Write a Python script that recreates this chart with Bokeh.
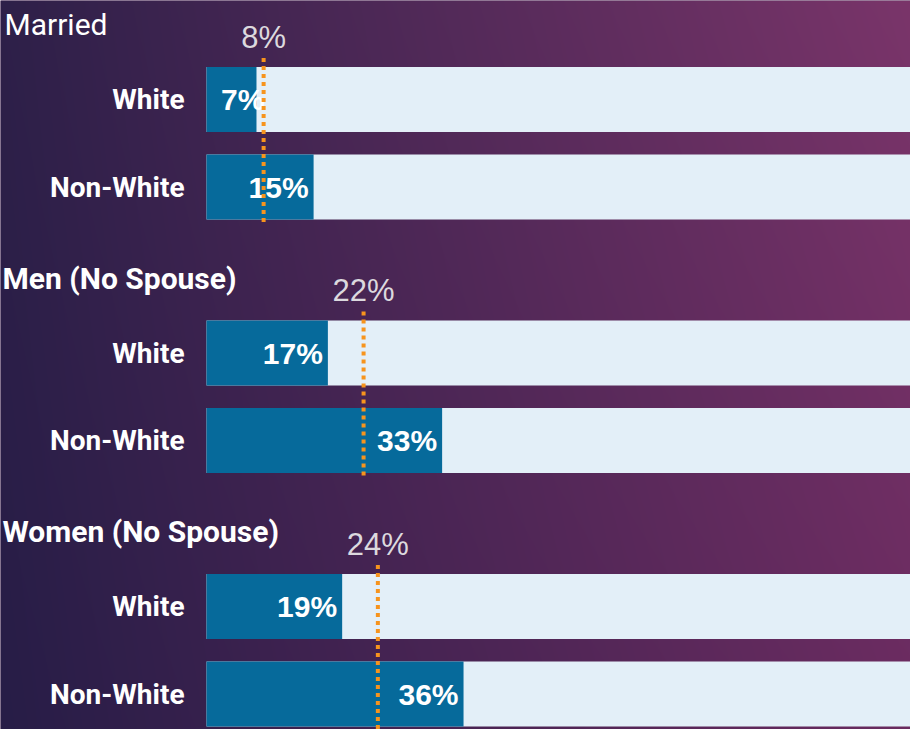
import numpy as np
from bokeh.plotting import figure
from bokeh.models import Range1d, ColumnDataSource
from bokeh.core.properties import value
from bokeh.embed import file_html
from bokeh.resources import INLINE

# ---- data ----
groups = ["Married", "Men (No Spouse)", "Women (No Spouse)"]
races = ["White", "Non-White"]
white_pct = [7, 17, 19]
nonwhite_pct = [15, 33, 36]
average_pct = [8, 22, 24]
full_pct = 100

# ---- layout ----
W, H = 910, 729
PX_PER_UNIT = 7.14
X0_PX = 206
x_start = -X0_PX / PX_PER_UNIT
x_end = (W - X0_PX) / PX_PER_UNIT

ROW0 = 99
GROUP_STEP = 253.5
ROW_STEP = 87.5
BAR_H = 65

def ydata(px_from_top):
    return H - px_from_top

p = figure(width=W, height=H, output_backend="svg", toolbar_location=None,
           x_range=Range1d(x_start, x_end), y_range=Range1d(0, H),
           min_border=0, min_border_left=0, min_border_right=0,
           min_border_top=0, min_border_bottom=0)
p.axis.visible = False
p.grid.visible = False
p.outline_line_color = None
p.background_fill_color = "#4e2856"
p.border_fill_color = "#4e2856"

# ---- background gradient ----
tl = np.array([0x2e, 0x20, 0x49], float)
bl = np.array([0x27, 0x1d, 0x47], float)
tr = np.array([0x7a, 0x35, 0x6a], float)
br = np.array([0x6a, 0x2b, 0x60], float)
u = np.linspace(0, 1, W)[None, :, None]
v = np.linspace(0, 1, H)[:, None, None]  # row 0 = bottom
col = (bl * (1 - u) + br * u) * (1 - v) + (tl * (1 - u) + tr * u) * v
img = np.empty((H, W), dtype=np.uint32)
view = img.view(dtype=np.uint8).reshape((H, W, 4))
view[:, :, 0] = col[:, :, 0].astype(np.uint8)
view[:, :, 1] = col[:, :, 1].astype(np.uint8)
view[:, :, 2] = col[:, :, 2].astype(np.uint8)
view[:, :, 3] = 255
p.image_rgba(image=[img], x=x_start, y=0, dw=x_end - x_start, dh=H)

# ---- rows ----
ys, vals, labels, vlabel_x = [], [], [], []
for g in range(len(groups)):
    for r, series in enumerate([white_pct, nonwhite_pct]):
        cy = ROW0 + g * GROUP_STEP + r * ROW_STEP
        ys.append(ydata(cy))
        vals.append(series[g])
        labels.append(races[r])
        vlabel_x.append(max(series[g], 8.8))

src = ColumnDataSource(dict(y=ys, v=vals, lab=labels, vx=vlabel_x,
                            vtxt=[f"{x}%" for x in vals],
                            full=[full_pct] * len(vals)))

p.hbar(y="y", left=0, right="full", height=BAR_H, source=src,
       fill_color="#e3eff8", line_color=None)
p.hbar(y="y", left=0, right="v", height=BAR_H, source=src,
       fill_color="#066a9b", line_color=None)

p.text(x=0, y="y", text="lab", source=src, x_offset=-22,
       text_align="right", text_baseline="middle",
       text_font=value("Roboto"), text_font_style="bold",
       text_font_size="28px", text_color="white")

p.text(x="vx", y="y", text="vtxt", source=src, x_offset=-5,
       text_align="right", text_baseline="middle",
       text_font=value("Liberation Sans"), text_font_style="bold",
       text_font_size="30px", text_color="white")

# ---- group titles, averages ----
tys, ax, ay, atxt, l0, l1 = [], [], [], [], [], []
for g, name in enumerate(groups):
    top = ROW0 + g * GROUP_STEP
    tys.append(ydata(top - 75))
    ax.append(average_pct[g])
    ay.append(ydata(top - BAR_H / 2 - 30))
    atxt.append(f"{average_pct[g]}%")
    l0.append(ydata(top - BAR_H / 2 - 9))
    l1.append(ydata(top + ROW_STEP + BAR_H / 2 + 6))

p.text(x=[x_start], y=[tys[0]], text=[groups[0]], x_offset=4,
       text_align="left", text_baseline="middle",
       text_font=value("Roboto"), text_font_size="30px",
       text_color="white")
p.text(x=[x_start] * 2, y=tys[1:], text=groups[1:], x_offset=2,
       text_align="left", text_baseline="middle",
       text_font=value("Roboto"), text_font_style="bold",
       text_font_size="30px", text_color="white")

p.segment(x0=ax, y0=l0, x1=ax, y1=l1, line_color="#f7941d",
          line_width=4, line_dash="4 4")
p.text(x=ax, y=ay, text=atxt, text_align="center", text_baseline="middle",
       text_font=value("Liberation Sans"), text_font_size="31px",
       text_color="#dcd9de")

open("out.html", "w").write(file_html(p, INLINE))
